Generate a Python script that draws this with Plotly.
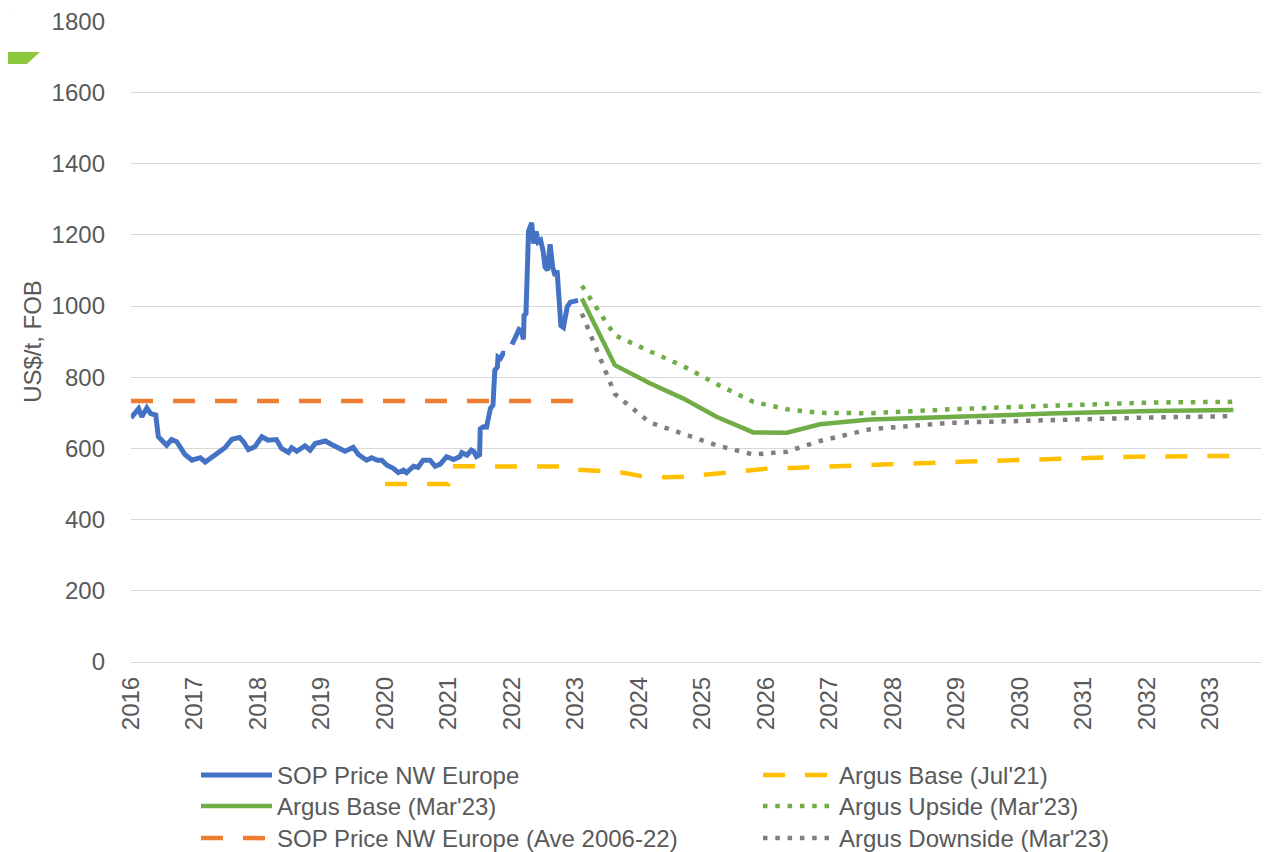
import plotly.graph_objects as go

# SOP price NW Europe, US$/t FOB (None = break in the series)
sop_years = [2016.00, 2016.06, 2016.12, 2016.17, 2016.21, 2016.25, 2016.31, 2016.39, 2016.43, 2016.49,
             2016.56, 2016.64, 2016.72, 2016.80, 2016.85, 2016.96, 2017.09, 2017.17, 2017.27, 2017.37,
             2017.48, 2017.59, 2017.71, 2017.77, 2017.85, 2017.95, 2018.06, 2018.16, 2018.29, 2018.37,
             2018.48, 2018.53, 2018.61, 2018.74, 2018.82, 2018.90, 2019.06, 2019.16, 2019.27, 2019.37,
             2019.50, 2019.58, 2019.71, 2019.79, 2019.88, 2019.95, 2020.03, 2020.13, 2020.21, 2020.29,
             2020.34, 2020.45, 2020.52, 2020.60, 2020.71, 2020.79, 2020.87, 2020.97, 2021.08, 2021.18,
             2021.21, 2021.29, 2021.36, 2021.40, 2021.44, 2021.49, 2021.50, 2021.55, 2021.60, 2021.63,
             2021.66, 2021.70, 2021.73, 2021.77, 2021.78, 2021.82, 2021.86, 2021.89, 2021.94, 2022.00,
             2022.05, 2022.08, 2022.11, 2022.15, 2022.18, 2022.19, 2022.22, 2022.26, 2022.28, 2022.31,
             2022.34, 2022.38, 2022.41, 2022.45, 2022.49, 2022.52, 2022.56, 2022.60, 2022.64, 2022.68,
             2022.71, 2022.74, 2022.77, 2022.81, 2022.85, 2022.87, 2022.92, 2022.99, 2023.04]
sop_price = [686, 700, 712, 689, 705, 714, 698, 694, 633, 623,
             609, 625, 619, 597, 583, 567, 574, 562, 574, 590,
             602, 626, 631, 619, 597, 605, 633, 623, 625, 600,
             589, 602, 592, 607, 595, 614, 621, 611, 602, 592,
             603, 583, 567, 574, 567, 567, 553, 544, 532, 539,
             532, 550, 547, 567, 567, 550, 556, 577, 569, 577,
             588, 581, 595, 591, 577, 582, 655, 661, 660, 680,
             712, 722, 820, 829, 857, 853, 867, 866, None, 892,
             914, 918, 934, 930, 906, 974, 979, 1210, 1224, 1234,
             1176, 1210, 1180, 1185, 1155, 1110, 1101, 1174, 1110, 1085,
             1100, 1030, 945, 940, 970, 998, 1011, 1014, 1016]

# Long-run average 2006-22
ave_years = [2016.0, 2023.0]
ave_price = [733, 733]

# Argus base case, July 2021
jul21_years = [2020.00, 2021.00, 2021.03, 2022.00, 2022.90, 2023.00, 2023.40, 2023.75, 2024.05, 2024.40,
               2024.75, 2025.10, 2025.40, 2025.70, 2026.05, 2026.50, 2027.00, 2027.35, 2027.85, 2029.15,
               2030.45, 2031.80, 2033.36]
jul21_base = [500, 500, 550, 550, 549, 541, 536, 532, 522, 519,
              521, 527, 531, 539, 544, 546, 550, 553, 555, 563,
              570, 577, 579]

# Argus scenarios, March 2023
mar23_years = [2023.10, 2023.62, 2024.17, 2024.70, 2025.22, 2025.80, 2026.33, 2026.85, 2027.64,
               2028.90, 2030.47, 2032.05, 2033.36]
mar23_base = [1021, 834, 783, 740, 689, 645, 644, 668, 681, 689, 698, 705, 708]
mar23_upside = [1057, 918, 873, 831, 781, 731, 710, 700, 699, 710, 720, 729, 731]
mar23_downside = [979, 753, 673, 640, 609, 583, 591, 621, 654, 672, 681, 687, 691]

year_ticks = [2016, 2017, 2018, 2019, 2020, 2021, 2022, 2023, 2024, 2025,
              2026, 2027, 2028, 2029, 2030, 2031, 2032, 2033]

FONT = 'Liberation Sans, Arial, sans-serif'
GREY_TXT = '#595959'
LW = 4.5
DASH = '22px,20px'
DOT = '4.5px,7.8px'

# the page puts the figure 8px in from the top-left corner (body margin),
# so the figure is 8px smaller than the window and page pixels are shifted by 8
PAGE_W, PAGE_H, OFF = 1269, 852, 8
W, H = PAGE_W - OFF, PAGE_H - OFF
L, R, T, B = 131 - OFF, 0, 21 - OFF, PAGE_H - 662
pw, ph = W - L - R, H - T - B


def paper(xp, yp):
    # page pixel -> paper coordinates
    return (xp - OFF - L) / pw, (H - B - (yp - OFF)) / ph


fig = go.Figure()

# series in the original sheet order; legend rows laid out two per row
fig.add_trace(go.Scatter(x=sop_years, y=sop_price, name='SOP Price NW Europe', mode='lines',
                         line=dict(color='#4472C4', width=5), legend='legend'))
fig.add_trace(go.Scatter(x=jul21_years, y=jul21_base, name="Argus Base (Jul'21)", mode='lines',
                         line=dict(color='#FFC000', width=LW, dash=DASH), legend='legend2'))
fig.add_trace(go.Scatter(x=mar23_years, y=mar23_base, name="Argus Base (Mar'23)", mode='lines',
                         line=dict(color='#70AD47', width=LW), legend='legend3'))
fig.add_trace(go.Scatter(x=mar23_years, y=mar23_upside, name="Argus Upside (Mar'23)", mode='lines',
                         line=dict(color='#70AD47', width=LW, dash=DOT), legend='legend4'))
fig.add_trace(go.Scatter(x=ave_years, y=ave_price, name='SOP Price NW Europe (Ave 2006-22)', mode='lines',
                         line=dict(color='#ED7D31', width=LW, dash=DASH), legend='legend5'))
fig.add_trace(go.Scatter(x=mar23_years, y=mar23_downside, name="Argus Downside (Mar'23)", mode='lines',
                         line=dict(color='#7F7F7F', width=LW, dash=DOT), legend='legend6'))

# slide decoration in the top-left corner (page pixels)
tri = [paper(-2, -2), paper(14, -2), paper(-2, 26)]
par = [paper(-2, 52), paper(40, 52), paper(27, 64), paper(-2, 64)]
fig.add_shape(type='path', xref='paper', yref='paper', line_width=0, fillcolor='#1f3184',
              path='M' + ' L'.join('%.4f,%.4f' % p for p in tri) + ' Z')
fig.add_shape(type='path', xref='paper', yref='paper', line_width=0, fillcolor='#8dc63f',
              path='M' + ' L'.join('%.4f,%.4f' % p for p in par) + ' Z')

legend_style = dict(orientation='v', font=dict(family=FONT, size=24, color=GREY_TXT),
                    bgcolor='rgba(0,0,0,0)', itemwidth=71, yanchor='top', xanchor='left',
                    xref='paper', yref='container')
col_x = [paper(196, 0)[0], paper(758, 0)[0]]
row_y = [1 - (c - 22 - OFF) / H for c in (775, 806, 838)]
legends = {}
for i in range(6):
    key = 'legend' if i == 0 else 'legend%d' % (i + 1)
    legends[key] = dict(legend_style, x=col_x[i % 2], y=row_y[i // 2])

fig.update_layout(
    width=W, height=H,
    margin=dict(l=L, r=R, t=T, b=B, pad=0, autoexpand=False),
    paper_bgcolor='white', plot_bgcolor='white',
    font=dict(family=FONT, size=24, color=GREY_TXT),
    showlegend=True,
    xaxis=dict(range=[2016, 2016 + pw / 63.5], tickmode='array', tickvals=year_ticks,
               ticktext=[str(y) for y in year_ticks], tickangle=-90, showgrid=False,
               zeroline=False, showline=False, ticks='', ticklabelstandoff=9, automargin=False,
               ticklabeloverflow='allow',
               tickfont=dict(family=FONT, size=24, color=GREY_TXT)),
    # top slightly above 1800 so the 1800 gridline is not clipped at the edge
    yaxis=dict(range=[0, 1801], dtick=200, showgrid=True, gridcolor='#d9d9d9', gridwidth=1.3,
               zeroline=True, zerolinecolor='#d9d9d9', zerolinewidth=1.3, showline=False,
               ticks='', ticklabelstandoff=25, automargin=False, ticklabeloverflow='allow',
               tickfont=dict(family=FONT, size=24, color=GREY_TXT),
               title=dict(text='US$/t, FOB', standoff=3,
                          font=dict(family=FONT, size=24, color=GREY_TXT))),
    **legends,
)

fig.write_html("out.html")
